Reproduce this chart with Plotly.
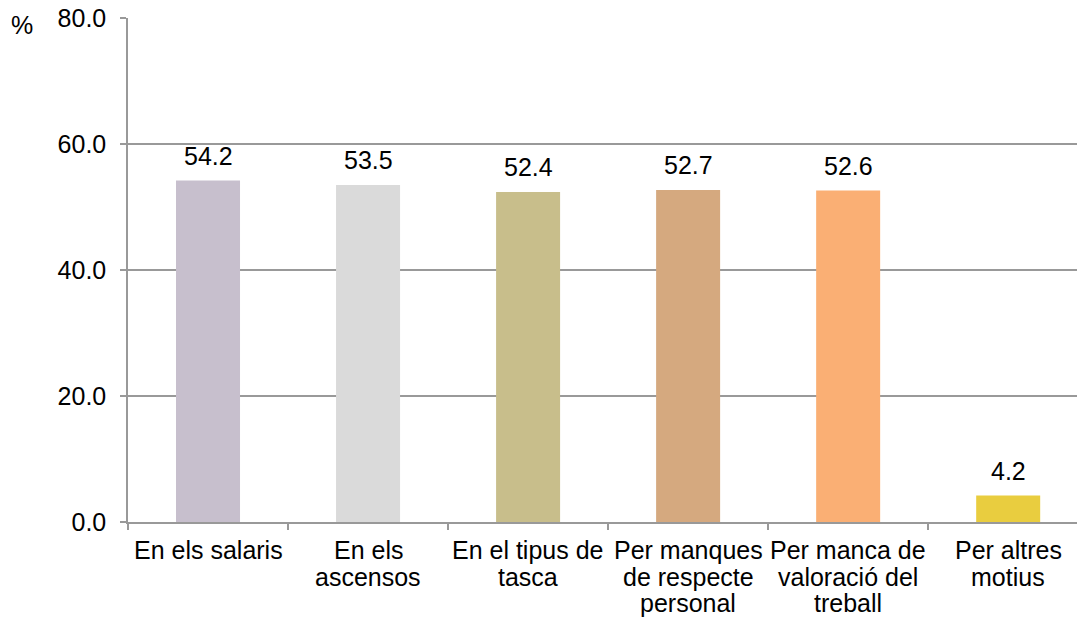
import plotly.graph_objects as go

# Survey data: share of respondents (%) by reason
categories = [
    "En els salaris",
    "En els ascensos",
    "En el tipus de tasca",
    "Per manques de respecte personal",
    "Per manca de valoració del treball",
    "Per altres motius",
]
label_lines = [
    ["En els salaris"],
    ["En els", "ascensos"],
    ["En el tipus de", "tasca"],
    ["Per manques", "de respecte", "personal"],
    ["Per manca de", "valoració del", "treball"],
    ["Per altres", "motius"],
]
values = [54.2, 53.5, 52.4, 52.7, 52.6, 4.2]
bar_colors = ["#C7BFCD", "#DADADA", "#C8BE8B", "#D5A97F", "#FAAF74", "#E9CD3F"]
y_ticks = [0, 20, 40, 60, 80]

FONT = "Liberation Sans, Arial, sans-serif"
FS = 25
AXIS_GREY = "#999999"

fig = go.Figure(
    go.Bar(
        x=categories,
        y=values,
        marker=dict(color=bar_colors, line=dict(width=0)),
        width=0.4,
        hoverinfo="skip",
    )
)

annotations = []
# value labels above bars
for cat, v in zip(categories, values):
    annotations.append(dict(
        x=cat, y=v, xref="x", yref="y", text=f"{v:.1f}",
        showarrow=False, yanchor="middle", yshift=25,
        font=dict(family=FONT, size=FS, color="#000000"),
    ))
# multi-line category labels below the axis
for cat, lines in zip(categories, label_lines):
    for i, line in enumerate(lines):
        annotations.append(dict(
            x=cat, y=0, xref="x", yref="paper", text=line,
            showarrow=False, yanchor="middle", yshift=-(28 + i * 26.7),
            font=dict(family=FONT, size=FS, color="#000000"),
        ))
# unit label
annotations.append(dict(
    x=0, y=1, xref="paper", yref="paper", text="%",
    showarrow=False, xanchor="center", yanchor="middle",
    xshift=-106, yshift=-7,
    font=dict(family=FONT, size=FS, color="#000000"),
))

fig.update_layout(
    width=1077,
    height=617,
    margin=dict(l=128, r=0, t=18, b=95),
    paper_bgcolor="white",
    plot_bgcolor="white",
    showlegend=False,
    annotations=annotations,
    font=dict(family=FONT, size=FS, color="#000000"),
    xaxis=dict(
        range=[-0.5, 5.43],
        showticklabels=False,
        ticks="outside",
        tickson="boundaries",
        ticklen=6,
        tickcolor=AXIS_GREY,
        tickwidth=1.5,
        showline=True,
        linecolor=AXIS_GREY,
        linewidth=1.5,
        showgrid=False,
        fixedrange=True,
    ),
    yaxis=dict(
        range=[0, 80],
        tickvals=y_ticks,
        ticktext=[f"{t:.1f}" for t in y_ticks],
        ticks="outside",
        ticklen=6,
        tickcolor=AXIS_GREY,
        tickwidth=1.5,
        ticklabelstandoff=9,
        showline=True,
        linecolor=AXIS_GREY,
        linewidth=1.5,
        showgrid=True,
        gridcolor=AXIS_GREY,
        gridwidth=1.5,
        zeroline=False,
        tickfont=dict(family=FONT, size=FS, color="#000000"),
        fixedrange=True,
    ),
)

fig.write_html("out.html", config={"displayModeBar": False})
